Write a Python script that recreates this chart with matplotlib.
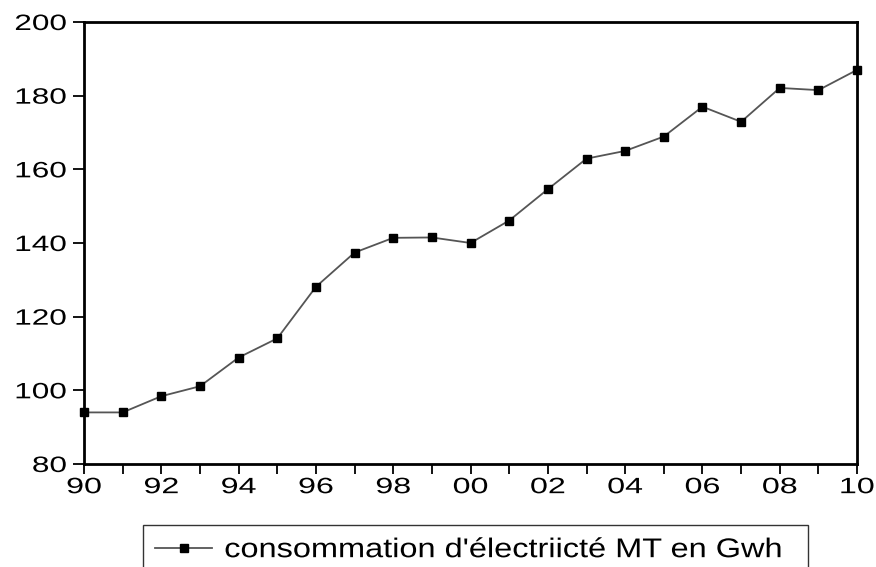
import numpy as np
import matplotlib
matplotlib.use("Agg")
import matplotlib.pyplot as plt
from matplotlib import patheffects
from matplotlib.transforms import Affine2D

# Annual medium-voltage electricity consumption (GWh), 1990-2010
years = np.arange(1990, 2011)
conso = [94.0, 94.0, 98.4, 101.1, 108.9, 114.1, 128.1, 137.4, 141.4, 141.5,
         140.0, 146.1, 154.6, 162.9, 165.0, 168.9, 177.0, 172.9, 182.1, 181.5, 187.0]
series_label = "consommation d'électriicté MT en Gwh"

x_tick_years = np.arange(1990, 2011, 2)
x_tick_labels = ["%02d" % (y % 100) for y in x_tick_years]
y_ticks = [80, 100, 120, 140, 160, 180, 200]


class StretchX(patheffects.AbstractPathEffect):
    # widen text horizontally (the original export has stretched glyphs)
    def __init__(self, sx, anchor="left"):
        super().__init__()
        self.sx = sx
        self.anchor = anchor

    def draw_path(self, renderer, gc, tpath, affine, rgbFace=None):
        ext = tpath.get_extents()
        if self.anchor == "right":
            p = ext.x1
        elif self.anchor == "center":
            p = 0.5 * (ext.x0 + ext.x1)
        else:
            p = 0.0
        t = Affine2D().translate(-p, 0).scale(self.sx, 1).translate(p, 0) + affine
        renderer.draw_path(gc, tpath, t, rgbFace)


plt.rcParams['font.family'] = ['Liberation Sans', 'DejaVu Sans']

fig = plt.figure(figsize=(8.76, 5.67), dpi=100)
ax = fig.add_axes([0.0959, 0.1817, 0.8825, 0.7795])

ax.plot(years, conso, color='#555555', linewidth=1.3, marker='s',
        markersize=6, markerfacecolor='black', markeredgecolor='black',
        label=series_label, clip_on=False, zorder=3)

ax.set_xlim(1990, 2010)
ax.set_ylim(80, 200)

ax.set_xticks(years, minor=True)
ax.set_xticks(x_tick_years)
ax.set_xticklabels(x_tick_labels)
ax.set_yticks(y_ticks)

ax.tick_params(axis='both', which='both', direction='out', length=7, width=1.3,
               labelsize=16, color='black')
ax.tick_params(axis='x', which='major', pad=2.5)
ax.tick_params(axis='y', which='major', pad=4.5, length=8)

for lab in ax.get_xticklabels():
    lab.set_path_effects([StretchX(1.45, "center")])
for lab in ax.get_yticklabels():
    lab.set_path_effects([StretchX(1.42, "right")])

for sp in ax.spines.values():
    sp.set_linewidth(2)
    sp.set_color('black')

# legend box stretched to the reference width, bottom runs off the figure
leg = fig.legend(loc='upper left', bbox_to_anchor=(0.1632, -0.2, 0.759, 0.2741),
                 mode='expand', fontsize=19.5, frameon=True, fancybox=False,
                 borderpad=0.45, handlelength=2.1, handletextpad=0.45,
                 borderaxespad=0)
leg.get_frame().set_edgecolor('black')
leg.get_frame().set_linewidth(1.0)
for t in leg.get_texts():
    t.set_path_effects([StretchX(1.2, "left")])

fig.savefig("out.png", dpi=100)
